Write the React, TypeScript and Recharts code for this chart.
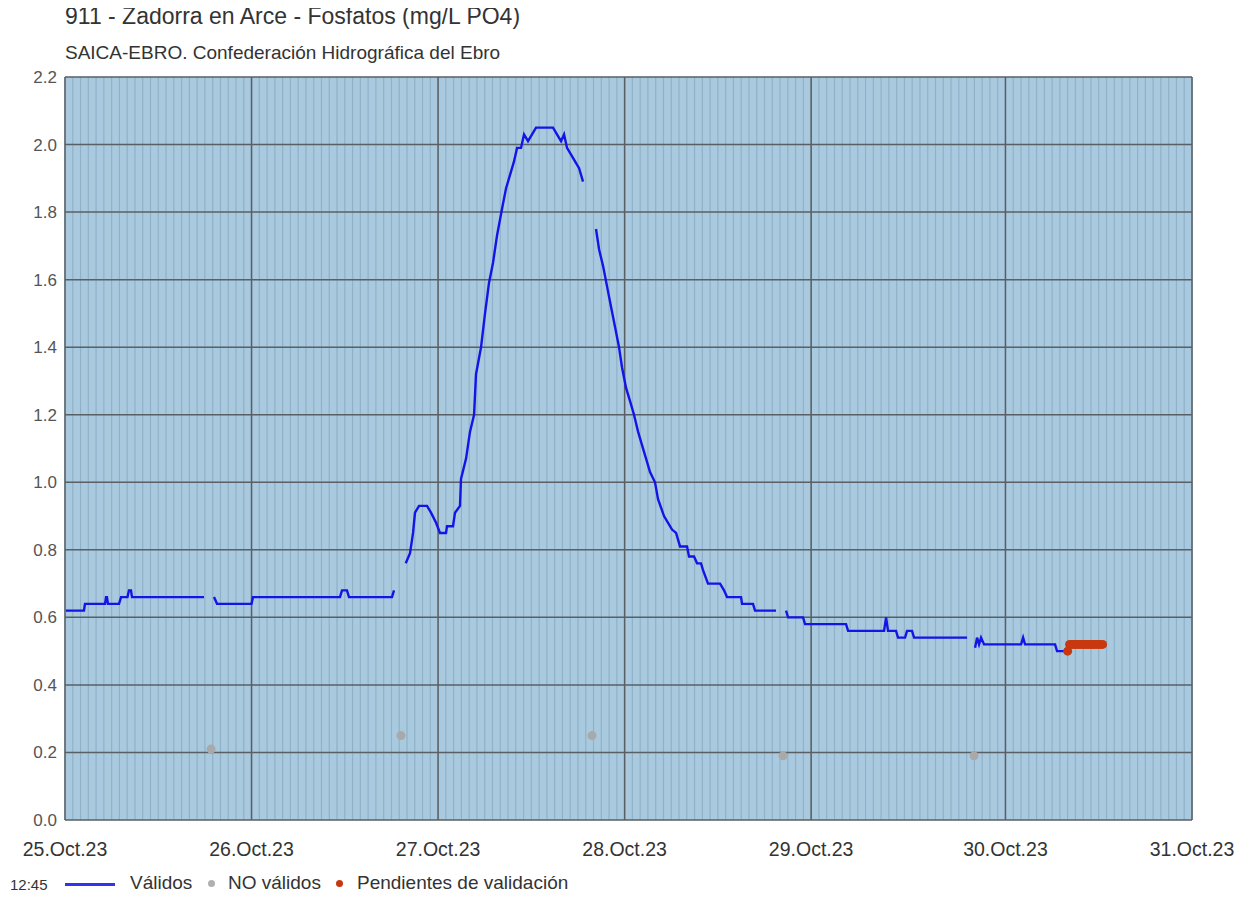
import React from 'react';
import { ComposedChart, Line, Scatter, XAxis, YAxis, CartesianGrid } from 'recharts';

// Time axis: hours since 25.Oct.23 00:00 (local). 29.Oct has 25 h (DST change).
const dayTicks = [0, 24, 48, 72, 96, 121, 145];
const dayLabels = ['25.Oct.23', '26.Oct.23', '27.Oct.23', '28.Oct.23', '29.Oct.23', '30.Oct.23', '31.Oct.23'];
const yTicks = [0, 0.2, 0.4, 0.6, 0.8, 1.0, 1.2, 1.4, 1.6, 1.8, 2.0, 2.2];

// Válidos (hours, mg/L PO4) – segments separated by calibration gaps
const validSeg1: [number, number][] = [
  [0.13, 0.62], [2.44, 0.62], [2.57, 0.64], [5.15, 0.64], [5.28, 0.66], [5.4, 0.66], [5.53, 0.64],
  [6.95, 0.64], [7.21, 0.66], [8.04, 0.66], [8.23, 0.68], [8.49, 0.68], [8.62, 0.66], [17.88, 0.66],
];
const validSeg2: [number, number][] = [
  [19.17, 0.66], [19.56, 0.64], [24.0, 0.64], [24.19, 0.66], [35.38, 0.66], [35.64, 0.68],
  [36.28, 0.68], [36.54, 0.66], [42.07, 0.66], [42.33, 0.68],
];
const validSeg3: [number, number][] = [
  [43.84, 0.76], [44.39, 0.79], [44.78, 0.85], [45.03, 0.91], [45.55, 0.93], [46.58, 0.93],
  [47.09, 0.91], [47.74, 0.88], [48.25, 0.85], [49.02, 0.85], [49.15, 0.87], [49.92, 0.87],
  [50.18, 0.91], [50.82, 0.93], [50.95, 1.01], [51.6, 1.07], [52.11, 1.15], [52.63, 1.2],
  [52.88, 1.32], [53.53, 1.4], [54.04, 1.5], [54.55, 1.59], [55.07, 1.65], [55.58, 1.73],
  [56.23, 1.81], [56.74, 1.87], [57.26, 1.91], [57.77, 1.95], [58.16, 1.99], [58.67, 1.99],
  [59.06, 2.03], [59.57, 2.01], [60.09, 2.03], [60.6, 2.05], [62.79, 2.05], [63.3, 2.03],
  [63.82, 2.01], [64.21, 2.03], [64.59, 1.99], [65.11, 1.97], [65.62, 1.95], [66.14, 1.93],
  [66.65, 1.89],
];
const validSeg4: [number, number][] = [
  [68.32, 1.75], [68.71, 1.69], [69.23, 1.64], [69.74, 1.58], [70.25, 1.52], [70.77, 1.46],
  [71.28, 1.4], [71.67, 1.34], [72.18, 1.28], [72.7, 1.24], [73.21, 1.2], [73.73, 1.15],
  [74.24, 1.11], [74.76, 1.07], [75.27, 1.03], [75.91, 1.0], [76.3, 0.95], [77.07, 0.9],
  [77.59, 0.88], [78.1, 0.86], [78.62, 0.85], [79.13, 0.81], [80.03, 0.81], [80.29, 0.78],
  [80.93, 0.78], [81.32, 0.76], [81.83, 0.76], [82.09, 0.74], [82.73, 0.7], [84.28, 0.7],
  [84.79, 0.68], [85.18, 0.66], [86.98, 0.66], [87.11, 0.64], [88.52, 0.64], [88.78, 0.62],
  [91.48, 0.62],
];
const validSeg5: [number, number][] = [
  [92.77, 0.62], [93.03, 0.6], [94.96, 0.6], [95.21, 0.58], [100.49, 0.58], [100.75, 0.56],
  [105.38, 0.56], [105.64, 0.6], [105.89, 0.56], [106.92, 0.56], [107.18, 0.54], [108.08, 0.54],
  [108.34, 0.56], [108.98, 0.56], [109.24, 0.54], [116.06, 0.54],
];
const validSeg6: [number, number][] = [
  [117.09, 0.51], [117.35, 0.54], [117.6, 0.52], [117.86, 0.54], [118.25, 0.52], [123.01, 0.52],
  [123.27, 0.54], [123.52, 0.52], [127.38, 0.52], [127.64, 0.5], [128.93, 0.5],
];

// NO válidos
const invalidTimes = [18.79, 43.23, 67.81, 92.38, 116.96];
const invalidValues = [0.21, 0.25, 0.25, 0.19, 0.19];

// Pendientes de validación (15-min readings)
const pendingTimes = [129.0, 129.25, 129.5, 129.75, 130.0, 130.25, 130.5, 130.75, 131.0, 131.25,
  131.5, 131.75, 132.0, 132.25, 132.5, 132.75, 133.0, 133.25, 133.5];
const pendingValues = [0.5, 0.52, 0.52, 0.52, 0.52, 0.52, 0.52, 0.52, 0.52, 0.52,
  0.52, 0.52, 0.52, 0.52, 0.52, 0.52, 0.52, 0.52, 0.52];

const segments = [validSeg1, validSeg2, validSeg3, validSeg4, validSeg5, validSeg6];
const validData: { t: number; v: number | null }[] = [];
segments.forEach((seg, i) => {
  seg.forEach(([t, v]) => validData.push({ t, v }));
  if (i < segments.length - 1) validData.push({ t: seg[seg.length - 1][0] + 0.05, v: null });
});
const invalidData = invalidTimes.map((t, i) => ({ t, v: invalidValues[i] }));
const pendingData = pendingTimes.map((t, i) => ({ t, v: pendingValues[i] }));

const hourLines = Array.from({ length: 146 }, (_, i) => i);

const FONT = '"Liberation Sans", Arial, sans-serif';

const dot = (color: string, r: number) => (props: any) => (
  <circle cx={props.cx} cy={props.cy} r={r} fill={color} />
);

export default function App() {
  return (
    <div style={{ position: 'relative', width: 1254, height: 900, margin: -8, background: '#fff', fontFamily: FONT }}>
      <div style={{ position: 'absolute', left: 65, top: 3, fontSize: 23, color: '#333', whiteSpace: 'nowrap' }}>
        911 - Zadorra en Arce - Fosfatos (mg/L PO4)
      </div>
      <div style={{ position: 'absolute', left: 65, top: 42, fontSize: 19, color: '#333', whiteSpace: 'nowrap' }}>
        SAICA-EBRO. Confederación Hidrográfica del Ebro
      </div>
      <div style={{ position: 'absolute', left: 0, top: 0 }}>
        <ComposedChart width={1254} height={900} margin={{ top: 77, right: 62, bottom: 40, left: 5 }}>
          <CartesianGrid
            fill="#a9c9df"
            stroke="#8fb1c9"
            strokeWidth={1.2}
            horizontal={false}
            verticalValues={hourLines}
          />
          <CartesianGrid
            stroke="#5a5f63"
            strokeWidth={1.5}
            verticalValues={dayTicks}
            horizontalValues={yTicks}
          />
          <XAxis
            type="number"
            dataKey="t"
            domain={[0, 145]}
            ticks={dayTicks}
            interval={0}
            tickFormatter={(v: number) => dayLabels[dayTicks.indexOf(v)] ?? ''}
            axisLine={false}
            tickLine={false}
            tickSize={0}
            tickMargin={22}
            height={40}
            tick={{ fill: '#333', fontSize: 19.5, fontFamily: FONT }}
            allowDataOverflow
          />
          <YAxis
            type="number"
            domain={[0, 2.2]}
            ticks={yTicks}
            interval={0}
            tickFormatter={(v: number) => v.toFixed(1)}
            axisLine={false}
            tickLine={false}
            tickSize={0}
            tickMargin={8}
            width={60}
            tick={{ fill: '#555', fontSize: 17, fontFamily: FONT }}
          />
          <Line
            data={validData}
            dataKey="v"
            type="linear"
            stroke="#1414e6"
            strokeWidth={2.4}
            dot={false}
            connectNulls={false}
            isAnimationActive={false}
          />
          <Scatter data={invalidData} dataKey="v" shape={dot('#a9a9a9', 4.5)} isAnimationActive={false} />
          <Scatter data={pendingData} dataKey="v" shape={dot('#c8380f', 4.5)} isAnimationActive={false} />
        </ComposedChart>
      </div>
      <div style={{ position: 'absolute', left: 10, top: 876, fontSize: 15, color: '#333' }}>12:45</div>
      <div style={{ position: 'absolute', left: 65, top: 883, width: 50, height: 2.5, background: '#3333ee' }} />
      <div style={{ position: 'absolute', left: 130, top: 872, fontSize: 19, color: '#333', whiteSpace: 'nowrap' }}>Válidos</div>
      <div style={{ position: 'absolute', left: 208, top: 880, width: 7, height: 7, borderRadius: 4, background: '#b0b0b0' }} />
      <div style={{ position: 'absolute', left: 228, top: 872, fontSize: 19, color: '#333', whiteSpace: 'nowrap' }}>NO válidos</div>
      <div style={{ position: 'absolute', left: 336, top: 880, width: 7, height: 7, borderRadius: 4, background: '#c8380f' }} />
      <div style={{ position: 'absolute', left: 357, top: 872, fontSize: 19, color: '#333', whiteSpace: 'nowrap' }}>Pendientes de validación</div>
    </div>
  );
}
